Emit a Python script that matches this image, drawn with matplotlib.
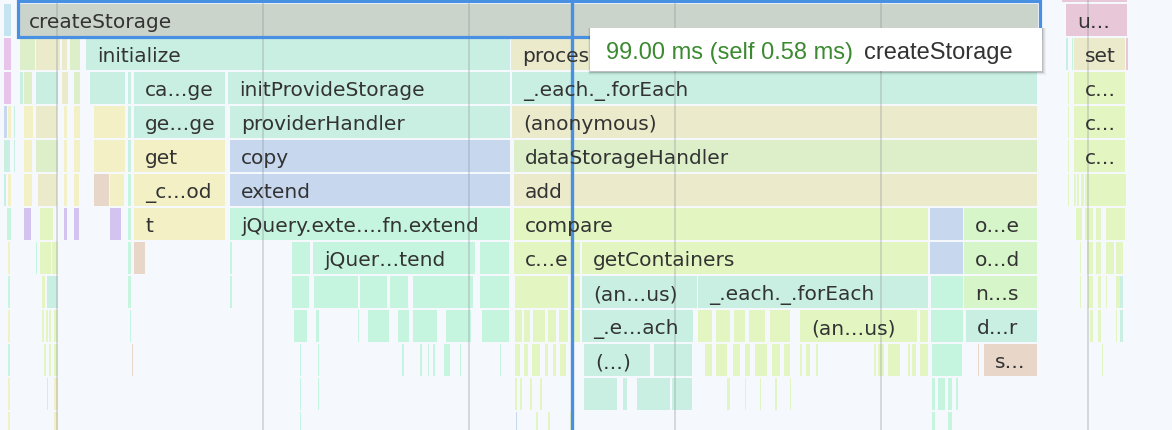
import numpy as np
import matplotlib.pyplot as plt
from matplotlib.patches import Rectangle

# call frames that carry a visible name (times in ms, depth = stack row)
frame_names = ['createStorage', 'u…',
               'initialize', 'proces', 'set',
               'ca…ge', 'initProvideStorage', '_.each._.forEach', 'c…',
               'ge…ge', 'providerHandler', '(anonymous)', 'c…',
               'get', 'copy', 'dataStorageHandler', 'c…',
               '_c…od', 'extend', 'add',
               't', 'jQuery.exte….fn.extend', 'compare', 'o…e',
               'jQuer…tend', 'c…e', 'getContainers', 'o…d',
               '(an…us)', '_.each._.forEach', 'n…s',
               '_.e…ach', '(an…us)', 'd…r',
               '(…)', 's…']
frame_depths = [0, 0,
                1, 1, 1,
                2, 2, 2, 2,
                3, 3, 3, 3,
                4, 4, 4, 4,
                5, 5, 5,
                6, 6, 6, 6,
                7, 7, 7, 7,
                8, 8, 8,
                9, 9, 9,
                10, 10]
frame_starts = [0.0, 101.72,
                6.60, 47.85, 102.50,
                11.26, 20.38, 47.95, 102.50,
                11.26, 20.58, 47.95, 102.50,
                11.26, 20.58, 48.14, 102.50,
                11.26, 20.58, 48.14,
                11.26, 20.58, 48.14, 91.82,
                28.63, 48.14, 54.74, 91.82,
                54.74, 66.00, 91.82,
                54.74, 75.90, 92.01,
                54.94, 93.76]
frame_durs = [99.00, 5.92,
              41.15, 51.15, 4.94,
              8.83, 27.37, 50.95, 4.94,
              8.83, 27.17, 50.95, 4.94,
              8.83, 27.17, 50.76, 4.94,
              8.83, 27.17, 50.76,
              8.83, 27.17, 40.19, 7.08,
              15.72, 6.41, 33.58, 7.08,
              11.16, 22.33, 7.08,
              10.78, 11.36, 6.89,
              6.40, 5.14]
frame_kinds = ['sel', 'pink',
               'teal', 'khaki', 'khaki',
               'teal', 'teal', 'teal', 'yg',
               'teal', 'teal', 'khaki', 'yg',
               'yellow', 'blue', 'lgreen', 'yg',
               'yellow', 'blue', 'khaki',
               'yellow', 'mint', 'yg', 'green2',
               'mint', 'yg', 'yg', 'green2',
               'teal', 'teal', 'green2',
               'teal', 'yg', 'teal',
               'teal', 'brown']

# short unnamed frames: (depth, start ms, duration ms, kind)
slivers = [
    (-1, 101.33, 6.31, 'pink'),
    (0, -1.36, 0.68, 'lblue'),
    (1, -1.36, 0.68, 'magenta'), (1, 0.19, 1.46, 'lgreen'), (1, 1.75, 2.33, 'khaki'),
    (1, 4.27, 0.49, 'khaki'), (1, 5.05, 0.97, 'lgreen'),
    (1, 101.72, 0.19, 'teal'), (1, 102.30, 0.10, 'mint'), (1, 107.54, 0.20, 'pink'),
    (2, -1.36, 0.68, 'magenta'), (2, 0.19, 0.29, 'teal'), (2, 0.58, 0.78, 'lgreen'),
    (2, 1.75, 2.14, 'teal'), (2, 4.27, 0.58, 'khaki'), (2, 5.44, 0.58, 'lgreen'),
    (2, 6.99, 3.40, 'teal'), (2, 10.68, 0.29, 'teal'), (2, 101.91, 0.10, 'yg'),
    (3, -1.36, 0.29, 'blue'), (3, -0.97, 0.29, 'yellow'), (3, -0.39, 0.10, 'teal'),
    (3, 0.58, 0.87, 'yellow'), (3, 1.75, 2.04, 'khaki'), (3, 4.46, 0.29, 'yellow'),
    (3, 5.44, 0.58, 'yellow'), (3, 7.38, 3.01, 'yellow'), (3, 10.68, 0.29, 'teal'),
    (3, 101.91, 0.10, 'yg'),
    (4, -1.36, 0.58, 'teal'), (4, -0.39, 0.10, 'teal'), (4, 0.58, 0.78, 'yellow'),
    (4, 1.75, 2.14, 'lgreen'), (4, 4.46, 0.29, 'yellow'), (4, 5.44, 0.58, 'yellow'),
    (4, 7.38, 3.01, 'yellow'), (4, 10.68, 0.29, 'teal'), (4, 101.91, 0.10, 'yg'),
    (5, -1.36, 0.20, 'teal'), (5, -0.97, 0.29, 'yellow'), (5, 0.58, 0.78, 'yellow'),
    (5, 1.94, 1.85, 'khaki'), (5, 4.46, 0.29, 'yellow'), (5, 5.44, 0.48, 'yellow'),
    (5, 7.38, 1.45, 'brown'), (5, 8.93, 1.36, 'yellow'), (5, 10.68, 0.29, 'mint'),
    (5, 101.91, 0.10, 'yg'), (5, 102.50, 0.15, 'yg'), (5, 102.80, 0.15, 'yg'),
    (5, 103.20, 0.30, 'yg'), (5, 103.60, 3.90, 'yg'),
    (6, -1.07, 0.39, 'mint'), (6, 0.58, 0.68, 'purple'), (6, 2.14, 1.26, 'yg'),
    (6, 4.46, 0.29, 'purple'), (6, 5.44, 0.48, 'purple'), (6, 8.93, 1.07, 'purple'),
    (6, 10.68, 0.29, 'mint'), (6, 88.52, 3.20, 'blue'),
    (6, 102.69, 0.58, 'yg'), (6, 103.56, 0.78, 'yg'), (6, 104.63, 0.49, 'yg'),
    (6, 105.60, 1.84, 'yg'),
    (7, -0.97, 0.20, 'yellow'), (7, 1.75, 0.10, 'mint'), (7, 2.14, 1.07, 'yg'),
    (7, 3.30, 0.58, 'yg'), (7, 10.68, 0.29, 'mint'), (7, 11.26, 1.07, 'brown'),
    (7, 20.58, 0.15, 'mint'), (7, 26.59, 1.75, 'mint'), (7, 44.84, 2.82, 'mint'),
    (7, 88.52, 3.20, 'blue'),
    (7, 103.08, 0.10, 'yg'), (7, 103.76, 0.58, 'yg'), (7, 104.63, 0.49, 'yg'),
    (7, 105.60, 0.78, 'yg'), (7, 106.57, 0.68, 'yg'),
    (8, -0.97, 0.20, 'mint'), (8, 2.33, 0.29, 'yg'), (8, 2.81, 1.07, 'teal'),
    (8, 10.68, 0.29, 'mint'), (8, 20.58, 0.15, 'mint'),
    (8, 26.59, 1.65, 'mint'), (8, 28.73, 4.27, 'mint'), (8, 33.19, 2.63, 'mint'),
    (8, 36.11, 1.74, 'mint'), (8, 38.34, 5.82, 'mint'), (8, 44.84, 2.82, 'mint'),
    (8, 48.24, 5.14, 'yg'), (8, 53.77, 0.78, 'yg'), (8, 88.62, 3.10, 'mint'),
    (8, 103.08, 0.10, 'yg'), (8, 103.85, 0.49, 'yg'), (8, 104.82, 0.30, 'yg'),
    (8, 105.60, 0.10, 'yg'), (8, 106.57, 0.39, 'yg'), (8, 106.96, 0.29, 'teal'),
    (9, -0.97, 0.20, 'yellow'), (9, 2.33, 0.20, 'yg'), (9, 2.72, 0.20, 'yg'),
    (9, 3.01, 0.20, 'yg'), (9, 3.49, 0.39, 'yg'), (9, 10.87, 0.10, 'mint'),
    (9, 26.79, 1.26, 'mint'), (9, 28.92, 0.30, 'mint'), (9, 33.00, 0.10, 'mint'),
    (9, 33.97, 2.04, 'mint'), (9, 36.88, 1.07, 'mint'), (9, 38.34, 2.33, 'mint'),
    (9, 41.54, 2.43, 'mint'), (9, 45.04, 2.62, 'mint'),
    (9, 48.24, 0.68, 'yg'), (9, 49.11, 0.58, 'yg'), (9, 49.99, 1.16, 'yg'),
    (9, 51.44, 0.78, 'yg'), (9, 52.51, 0.87, 'yg'), (9, 53.97, 0.58, 'yg'),
    (9, 66.00, 1.36, 'yg'), (9, 67.75, 1.36, 'yg'), (9, 69.50, 1.06, 'yg'),
    (9, 70.95, 1.55, 'yg'), (9, 72.99, 1.94, 'yg'), (9, 87.55, 0.78, 'yg'),
    (9, 88.62, 3.10, 'mint'),
    (9, 104.05, 0.29, 'yg'), (9, 104.82, 0.30, 'yg'), (9, 106.57, 0.10, 'yg'),
    (9, 106.96, 0.29, 'teal'),
    (10, -0.97, 0.20, 'mint'), (10, 2.52, 0.20, 'yg'), (10, 3.01, 0.20, 'yg'),
    (10, 3.49, 0.39, 'yg'), (10, 11.06, 0.10, 'brown'),
    (10, 27.37, 0.10, 'mint'), (10, 29.12, 0.10, 'mint'), (10, 37.27, 0.20, 'mint'),
    (10, 38.99, 0.20, 'mint'), (10, 39.79, 0.10, 'mint'), (10, 40.28, 0.19, 'mint'),
    (10, 41.35, 0.58, 'mint'), (10, 42.90, 0.10, 'mint'), (10, 46.78, 0.10, 'mint'),
    (10, 48.24, 0.49, 'yg'), (10, 49.11, 0.39, 'yg'), (10, 49.89, 0.78, 'yg'),
    (10, 51.15, 0.29, 'yg'), (10, 51.93, 0.29, 'yg'), (10, 52.61, 0.58, 'yg'),
    (10, 61.73, 3.69, 'teal'),
    (10, 66.68, 0.68, 'yg'), (10, 67.75, 1.07, 'yg'), (10, 69.40, 0.68, 'yg'),
    (10, 70.56, 0.49, 'yg'), (10, 71.53, 1.17, 'yg'), (10, 73.18, 0.78, 'yg'),
    (10, 74.35, 0.58, 'yg'), (10, 75.90, 0.19, 'yg'), (10, 76.48, 0.39, 'yg'),
    (10, 77.45, 0.20, 'yg'), (10, 83.08, 0.20, 'yg'), (10, 83.47, 0.58, 'yg'),
    (10, 84.44, 1.17, 'yg'), (10, 86.38, 0.20, 'yg'), (10, 86.77, 0.39, 'yg'),
    (10, 87.55, 0.78, 'yg'), (10, 88.72, 2.91, 'mint'), (10, 93.18, 0.10, 'brown'),
    (10, 105.21, 0.10, 'yg'),
    (11, -0.97, 0.20, 'yellow'), (11, 2.81, 0.10, 'mint'), (11, 3.49, 0.39, 'yellow'),
    (11, 27.37, 0.10, 'mint'), (11, 29.12, 0.10, 'mint'),
    (11, 48.24, 0.19, 'yg'), (11, 48.73, 0.19, 'yg'), (11, 49.69, 0.20, 'yg'),
    (11, 50.67, 0.19, 'yg'),
    (11, 54.94, 3.20, 'teal'), (11, 58.72, 0.39, 'teal'), (11, 60.04, 3.24, 'teal'),
    (11, 63.48, 1.94, 'teal'),
    (11, 68.82, 0.29, 'yg'), (11, 70.56, 0.10, 'yg'), (11, 72.02, 0.10, 'yg'),
    (11, 73.47, 0.20, 'yg'), (11, 74.93, 0.10, 'yg'),
    (11, 88.72, 0.29, 'mint'), (11, 89.30, 0.68, 'mint'), (11, 90.27, 0.38, 'mint'),
    (11, 91.04, 0.20, 'mint'),
    (12, -0.97, 0.20, 'yellow'), (12, 3.49, 0.39, 'yellow'), (12, 27.37, 0.10, 'mint'),
    (12, 48.34, 0.10, 'blue'), (12, 50.28, 0.20, 'yg'), (12, 51.44, 0.20, 'yg'),
    (12, 53.58, 0.39, 'yg'), (12, 88.72, 0.29, 'mint'), (12, 90.27, 0.38, 'mint'),
]

# hovered entry shown in the tooltip
hover_name = 'createStorage'
hover_total = 99.00
hover_self = 0.58
cursor_time = 53.8

palette = {
    'sel': '#cbd4ca', 'teal': '#c8efe2', 'khaki': '#ebeacb', 'yellow': '#f2f0c4',
    'blue': '#c6d7ee', 'lgreen': '#dcefc9', 'mint': '#c5f4df', 'yg': '#e3f6c1',
    'green2': '#d6f5c8', 'brown': '#e8d7c8', 'pink': '#e8c7d9', 'magenta': '#e8c4ea',
    'purple': '#d3c3ef', 'lblue': '#c4e4f2',
}
BG = '#f5f8fd'
ROW_H = 32 / 34      # bar height, as a fraction of the row pitch
PX = 99.0 / 1020     # one pixel in ms

fig = plt.figure(figsize=(11.72, 4.30), dpi=100, facecolor=BG)
ax = fig.add_axes([0, 0, 1, 1])
ax.set_xlim(-1.75, 112.0)
ax.set_ylim(12.53, -0.118)
ax.axis('off')

sd, ss, sw, sk = zip(*slivers)
ax.barh(sd, sw, left=ss, height=ROW_H, align='edge',
        color=[palette[k] for k in sk], linewidth=0, zorder=2)
ax.barh(frame_depths, frame_durs, left=frame_starts, height=ROW_H, align='edge',
        color=[palette[k] for k in frame_kinds], linewidth=0, zorder=2)

for name, d, s in zip(frame_names, frame_depths, frame_starts):
    ax.annotate(name, (s, d + 0.72), xytext=(8, 0), textcoords='offset points',
                va='baseline', ha='left', fontsize=14.5, color='#333333',
                family='DejaVu Sans', zorder=6)

# time grid
for gx in np.arange(3.8, 112, 20):
    ax.axvline(gx, color='#8f949a', alpha=0.32, lw=1.4, zorder=3)

# selection box round the hovered frame
ax.add_patch(Rectangle((-0.05, -0.088), 99.2, 1.058, fill=False,
                       ec='#4a90e2', lw=2.3, zorder=4))
ax.axvline(cursor_time, color='#4a90e2', lw=2.4, zorder=5)

# tooltip
tx0, tx1 = 55.52, 99.39
ty0, ty1 = 0.706, 1.97
for i, a in enumerate([0.04, 0.05, 0.07, 0.09]):
    g = (4 - i) * PX
    ax.add_patch(Rectangle((tx0 - g * 0.5, ty0 + 0.01), tx1 - tx0 + g * 1.5,
                           ty1 - ty0 + (4 - i) * 0.02 + 0.02,
                           fc='#000000', alpha=a, lw=0, zorder=7))
ax.add_patch(Rectangle((tx0, ty0), tx1 - tx0, ty1 - ty0, fc='white', lw=0, zorder=7))
t1 = ax.text(tx0 + 16 * PX, 1.618, f'{hover_total:.2f} ms (self {hover_self:.2f} ms)',
             family='Liberation Sans', fontsize=17, color='#3b8a30',
             va='baseline', ha='left', zorder=8)
ax.annotate(hover_name, xy=(1, 0), xycoords=t1, xytext=(8, 0),
            textcoords='offset points', family='Liberation Sans', fontsize=17,
            color='#333333', va='bottom', ha='left', zorder=8)

fig.savefig('out.png', dpi=100, facecolor=BG)
